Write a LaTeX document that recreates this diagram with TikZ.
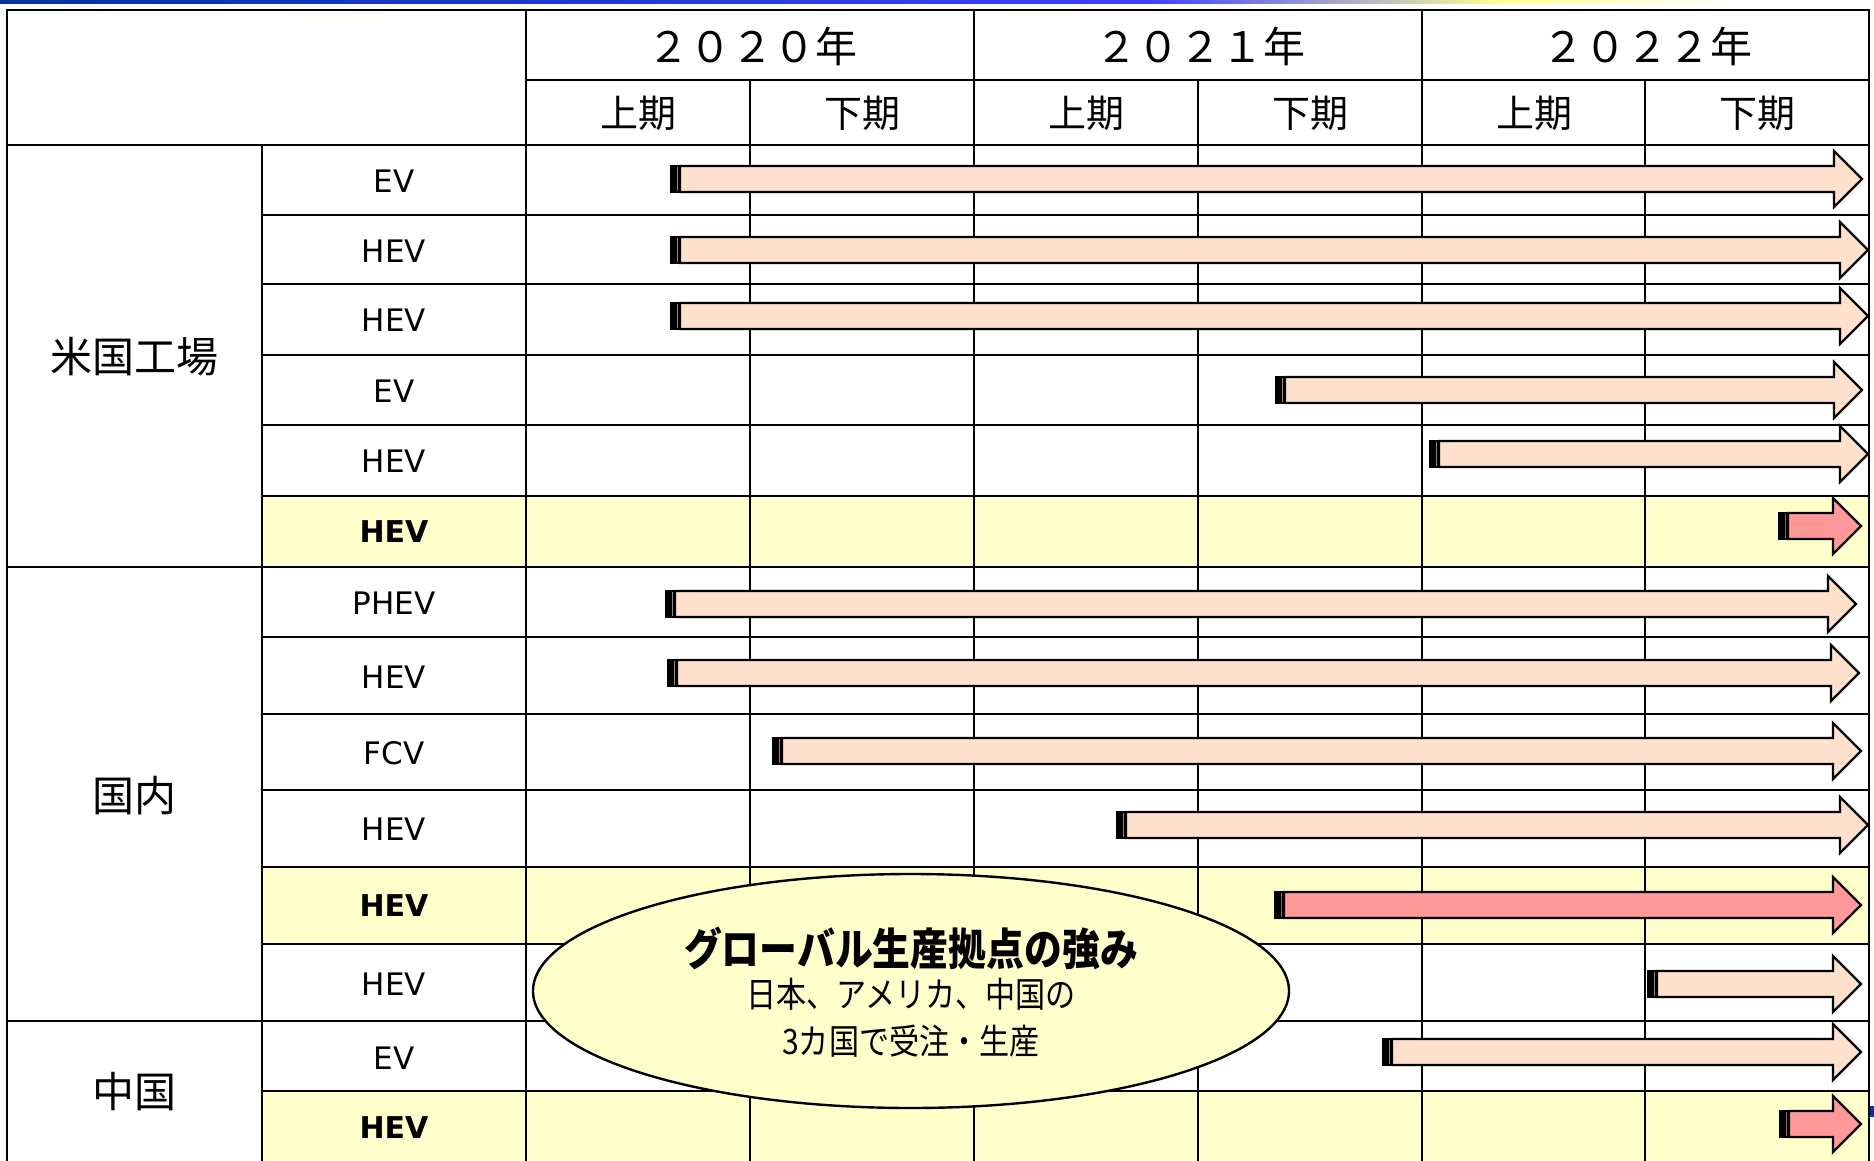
\documentclass[tikz,border=0pt]{standalone}
\usepackage{fontspec}
\setmainfont{DejaVu Sans}
\newfontfamily\jp{Noto Sans CJK JP}
\newfontfamily\jpc[FakeStretch=0.86]{Noto Sans CJK JP}
\usetikzlibrary{shapes.geometric}
\definecolor{peach}{HTML}{FFE0CC}
\definecolor{redfill}{HTML}{FF9999}
\definecolor{lyellow}{HTML}{FFFFCC}
\definecolor{barblue}{HTML}{0033A0}
\newcommand\garrow[4]{% x0, xtip, y, fill
  \path[draw=black, line width=2.4pt, fill=#4, line join=miter]
    ({#1+10},{#3-13}) -- ({#2-28},{#3-13}) -- ({#2-28},{#3-28}) -- (#2,#3)
    -- ({#2-28},{#3+28}) -- ({#2-28},{#3+13}) -- ({#1+10},{#3+13}) -- cycle;
  \fill[black] ({#1},{#3-14.2}) rectangle ({#1+11},{#3+14.2});
  \draw[#4!60!black, line width=0.9pt] ({#1+7.5},{#3-12}) -- ({#1+7.5},{#3+12});
}
\begin{document}
\begin{tikzpicture}[x=1pt,y=-1pt,
  gridline/.style={line width=2.7pt, line cap=rect},
  rowlab/.style={font=\fontsize{31}{33}\selectfont, inner sep=0pt},
  rowlabb/.style={font=\fontsize{30}{32}\selectfont\bfseries, inner sep=0pt},
  grouplab/.style={font=\jp\fontsize{42}{44}\selectfont, inner sep=0pt},
  yearlab/.style={font=\jp\fontsize{42}{44}\selectfont, inner sep=0pt},
  halflab/.style={font=\jp\fontsize{38}{40}\selectfont, inner sep=0pt},
  bubble/.style={ellipse, draw=black, line width=2.4pt, fill=lyellow,
    minimum width=756pt, minimum height=234pt, inner sep=0pt}]
\useasboundingbox (0,0) rectangle (1874,1161);
\fill[white] (0,0) rectangle (1874,1161);
% top gradient bar
\shade[left color=barblue, right color=blue!75!white] (0,0) rectangle (1150,3.5);
\shade[left color=blue!75!white, right color=yellow!40!white] (1150,0) rectangle (1500,3.5);
\shade[left color=yellow!40!white, right color=white] (1500,0) rectangle (1740,3.5);
\fill[barblue] (1869,1106) rectangle (1874,1117);
% yellow rows
\fill[lyellow] (262,496) rectangle (1869,567);
\fill[lyellow] (262,867) rectangle (1869,944);
\fill[lyellow] (262,1091) rectangle (1869,1161);
% grid
\draw[gridline] (7,10) -- (1869,10);
\draw[gridline] (526,80) -- (1869,80);
\draw[gridline] (7,145) -- (1869,145);
\foreach \yy in {215,284,355,425,496,637,714,790,867,944,1091}
  \draw[gridline] (262,\yy) -- (1869,\yy);
\draw[gridline] (7,567) -- (1869,567);
\draw[gridline] (7,1021) -- (1869,1021);
\draw[gridline] (7,10) -- (7,1162);
\draw[gridline] (262,145) -- (262,1162);
\draw[gridline] (526,10) -- (526,1162);
\draw[gridline] (974,10) -- (974,1162);
\draw[gridline] (1422,10) -- (1422,1162);
\draw[gridline] (1869,10) -- (1869,1162);
\foreach \xx in {750,1198,1645}
  \draw[gridline] (\xx,80) -- (\xx,1162);
% header
\node[yearlab] (y20) at (752,46) {２０２０年};
\node[yearlab] (y21) at (1200,46) {２０２１年};
\node[yearlab] (y22) at (1647,46) {２０２２年};
\node[halflab] (h1) at (638,113) {上期};
\node[halflab] (h2) at (862,113) {下期};
\node[halflab] (h3) at (1086,113) {上期};
\node[halflab] (h4) at (1310,113) {下期};
\node[halflab] (h5) at (1534,113) {上期};
\node[halflab] (h6) at (1757,113) {下期};
% group labels
\node[grouplab] (gus) at (134,357) {米国工場};
\node[grouplab] (gjp) at (134,796) {国内};
\node[grouplab] (gcn) at (134,1092) {中国};
% row labels
\node[rowlab] (r1) at (394,181) {EV};
\node[rowlab] (r2) at (394,251) {HEV};
\node[rowlab] (r3) at (394,320) {HEV};
\node[rowlab] (r4) at (394,391) {EV};
\node[rowlab] (r5) at (394,461) {HEV};
\node[rowlabb] (r6) at (394,532) {HEV};
\node[rowlab] (r7) at (394,603) {PHEV};
\node[rowlab] (r8) at (394,677) {HEV};
\node[rowlab] (r9) at (394,753) {FCV};
\node[rowlab] (r10) at (394,829) {HEV};
\node[rowlabb] (r11) at (394,906) {HEV};
\node[rowlab] (r12) at (394,984) {HEV};
\node[rowlab] (r13) at (394,1058) {EV};
\node[rowlabb] (r14) at (394,1128) {HEV};
% arrows
\garrow{670}{1862}{179}{peach}
\garrow{670}{1868}{250}{peach}
\garrow{670}{1868}{316}{peach}
\garrow{1275}{1862}{390}{peach}
\garrow{1429}{1868}{454}{peach}
\garrow{1778}{1861}{526}{redfill}
\garrow{665}{1856}{604}{peach}
\garrow{667}{1859}{673}{peach}
\garrow{772}{1861}{751}{peach}
\garrow{1116}{1868}{825}{peach}
\garrow{1274}{1861}{905}{redfill}
\garrow{1647}{1861}{984}{peach}
\garrow{1382}{1861}{1052}{peach}
\garrow{1779}{1861}{1124}{redfill}
% bubble
\node[bubble] (ell) at (911,991) {};
\node[font=\jpc\fontsize{44}{46}\selectfont\bfseries, inner sep=0pt] (t1) at (911,948) {グローバル生産拠点の強み};
\node[font=\jpc\fontsize{35}{37}\selectfont, inner sep=0pt] (t2) at (911,994) {日本、アメリカ、中国の};
\node[font=\jpc\fontsize{35}{37}\selectfont, inner sep=0pt] (t3) at (911,1041) {3カ国で受注・生産};
\end{tikzpicture}
\end{document}
